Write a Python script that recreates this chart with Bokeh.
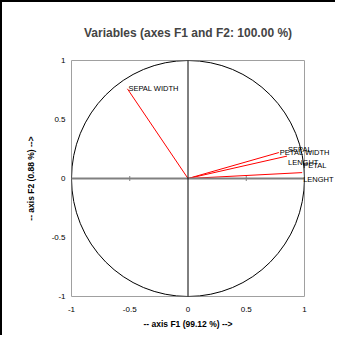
import math
from bokeh.plotting import figure
from bokeh.models import Span, Range1d, FixedTicker, ColumnDataSource
from bokeh.core.properties import value
from bokeh.embed import file_html
from bokeh.resources import INLINE

title_text = "Variables (axes F1 and F2: 100.00 %)"
x_title = "-- axis F1 (99.12 %) -->"
y_title = "-- axis F2 (0.88 %) -->"
var_names = ["SEPAL\nLENGHT", "SEPAL WIDTH", "PETAL\nLENGHT", "PETAL WIDTH"]
f1 = [0.85, -0.52, 0.98, 0.78]
f2 = [0.19, 0.76, 0.05, 0.22]
tick_values = [-1, -0.5, 0, 0.5, 1]
tick_labels = ["-1", "-0.5", "0", "0.5", "1"]
inner_ticks = [-0.5, 0.5]
origin = [0]

FONT = "Liberation Sans"

p = figure(width=333, height=333,
           x_range=Range1d(tick_values[0], tick_values[-1]),
           y_range=Range1d(tick_values[0], tick_values[-1]),
           output_backend="svg", toolbar_location=None,
           min_border_left=69, min_border_top=58, min_border_right=33, min_border_bottom=41,
           styles={"border-left": "2px solid black", "border-top": "2px solid black",
                   "box-sizing": "content-box", "overflow": "visible"})

p.title.text = title_text
p.title.align = "center"
p.title.text_font = FONT
p.title.text_font_size = "12px"
p.title.text_font_style = "bold"
p.title.standoff = 42

p.xgrid.visible = False
p.ygrid.visible = False
p.outline_line_color = "#a0a0a0"
p.outline_line_width = 1
p.background_fill_color = "white"
p.border_fill_color = "white"

for ax, lab in ((p.xaxis[0], x_title), (p.yaxis[0], y_title)):
    ax.ticker = FixedTicker(ticks=tick_values)
    ax.major_label_overrides = dict(zip(tick_values, tick_labels))
    ax.axis_line_color = None
    ax.major_tick_line_color = None
    ax.major_tick_out = 0
    ax.major_tick_in = 0
    ax.minor_tick_line_color = None
    ax.minor_tick_out = 0
    ax.major_label_text_font = FONT
    ax.major_label_text_font_size = "8px"
    ax.major_label_text_color = "black"
    ax.axis_label = lab
    ax.axis_label_text_font = FONT
    ax.axis_label_text_font_size = "8.5px"
    ax.axis_label_text_font_style = "bold"
    ax.axis_label_text_color = "black"
p.xaxis[0].major_label_standoff = 10
p.xaxis[0].axis_label_standoff = 4
p.yaxis[0].major_label_standoff = 6
p.yaxis[0].axis_label_standoff = 13

# zero lines
p.add_layout(Span(location=origin[0], dimension="width", line_color="#808080", line_width=2))
p.add_layout(Span(location=origin[0], dimension="height", line_color="black", line_width=1))

# unit circle
p.ellipse(x=origin, y=origin, width=[tick_values[-1] - tick_values[0]],
          height=[tick_values[-1] - tick_values[0]],
          fill_color=None, line_color="black", line_width=1)

# small ticks on the horizontal zero line
p.scatter(x=inner_ticks, y=origin * len(inner_ticks), marker="dash", angle=math.pi / 2,
          size=5, line_color="#808080", line_width=1)

src = ColumnDataSource(dict(x=f1, y=f2, name=var_names))
p.segment(x0=0, y0=0, x1="x", y1="y", source=src, line_color="red", line_width=1)
p.text(x="x", y="y", text="name", source=src, x_offset=1,
       text_align="left", text_baseline="middle",
       text_font=value(FONT), text_font_size="7.5px", text_color="black",
       text_line_height=1.5, level="overlay")

open("out.html", "w").write(file_html(p, INLINE))
